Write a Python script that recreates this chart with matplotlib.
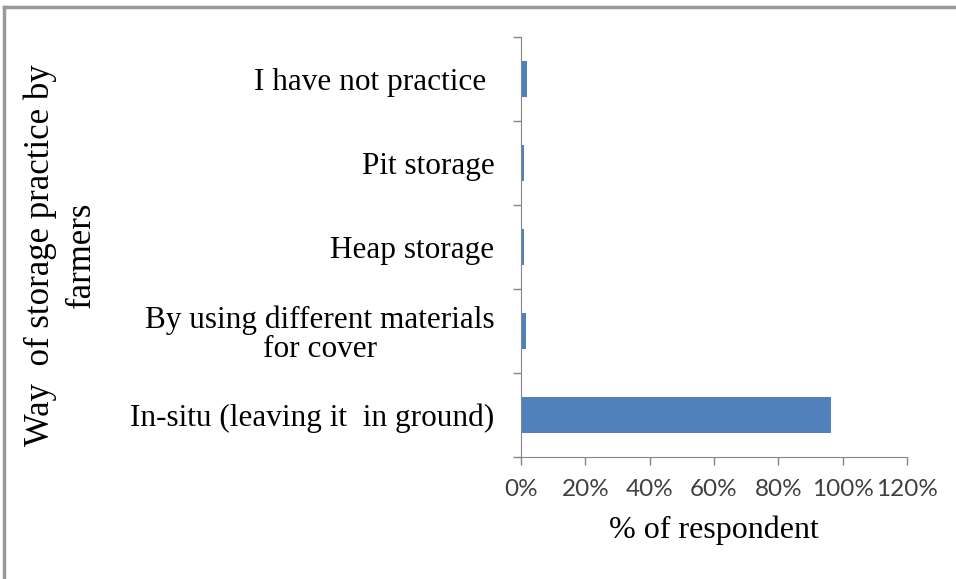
import numpy as np
import matplotlib.pyplot as plt
from matplotlib.lines import Line2D
from matplotlib.ticker import PercentFormatter

# ==== DATA ====
categories = ["In-situ (leaving it  in ground)",
              "By using different materials\nfor cover",
              "Heap storage",
              "Pit storage",
              "I have not practice "]
pct_values = [96.5, 1.5, 1.0, 0.8, 2.0]
x_ticks = [0, 20, 40, 60, 80, 100, 120]

serif = "Liberation Serif"
sans = "Lato"
grey = "#868686"

fig = plt.figure(figsize=(9.56, 5.79), dpi=100)
ax = fig.add_axes([521 / 956, 1 - 457 / 579, (907 - 521) / 956, (457 - 37) / 579])

y = np.arange(len(categories))
ax.barh(y, pct_values, height=0.42, color="#4F81BD")

ax.set_xlim(0, 120)
ax.set_ylim(-0.5, len(categories) - 0.5)
ax.set_xticks(x_ticks)
ax.xaxis.set_major_formatter(PercentFormatter(decimals=0))
ax.set_yticks(y)
ax.set_yticklabels(categories, family=serif, fontsize=22.5, multialignment="center",
                   linespacing=1.0)
ax.set_yticks(np.arange(-0.5, len(categories), 1), minor=True)

for lbl in ax.get_xticklabels():
    lbl.set_family(sans)
    lbl.set_fontsize(17.5)
    lbl.set_color("#404040")

ax.tick_params(axis="y", which="major", length=0, pad=19, colors="black")
ax.tick_params(axis="y", which="minor", length=6, color=grey, width=1)
ax.tick_params(axis="x", length=6, color=grey, width=1, pad=10)

for side in ["top", "right"]:
    ax.spines[side].set_visible(False)
for side in ["left", "bottom"]:
    ax.spines[side].set_color(grey)

ax.set_xlabel("% of respondent", family=serif, fontsize=23, labelpad=11)
fig.text(61 / 956, 1 - 255 / 579, "Way  of storage practice by\nfarmers",
         family=serif, fontsize=25, rotation=90, ha="center", va="center",
         multialignment="center", linespacing=1.3)

# outer frame of the pasted figure
fig.add_artist(Line2D([4 / 956, 1], [1 - 7 / 579, 1 - 7 / 579], color="#999999", lw=2.5))
fig.add_artist(Line2D([4 / 956, 4 / 956], [0, 1 - 7 / 579], color="#999999", lw=2.5))

fig.savefig("out.png", dpi=100)
plt.close()
